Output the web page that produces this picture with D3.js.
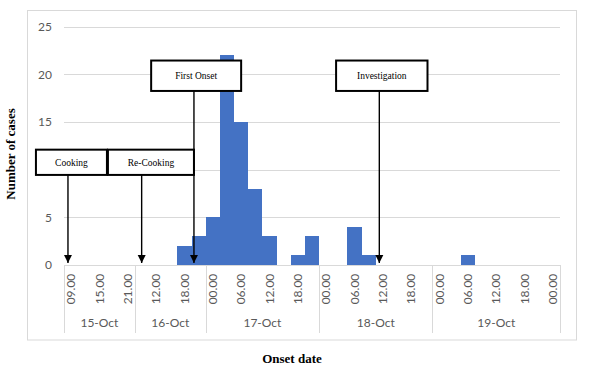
<!DOCTYPE html>
<html><head><meta charset="utf-8">
<script src="https://cdn.jsdelivr.net/npm/d3@7"></script>
<style>
html,body{margin:0;padding:0;background:#fff;}
svg{display:block;}
</style></head>
<body>
<svg id="chart" width="592" height="388"></svg>
<script>
// ---- data ----
const days = ["15-Oct", "16-Oct", "17-Oct", "18-Oct", "19-Oct"];
const hours15 = ["09.00", "12.00", "15.00", "18.00", "21.00"];
const hours16 = ["09.00", "12.00", "15.00", "18.00", "21.00"];
const hours17 = ["00.00", "03.00", "06.00", "09.00", "12.00", "15.00", "18.00", "21.00"];
const hours18 = ["00.00", "03.00", "06.00", "09.00", "12.00", "15.00", "18.00", "21.00"];
const hours19 = ["00.00", "03.00", "06.00", "09.00", "12.00", "15.00", "18.00", "21.00", "00.00"];
const cases15 = [0, 0, 0, 0, 0];
const cases16 = [0, 0, 0, 2, 3];
const cases17 = [5, 22, 15, 8, 3, 0, 1, 3];
const cases18 = [0, 0, 4, 1, 0, 0, 0, 0];
const cases19 = [0, 0, 1, 0, 0, 0, 0, 0, 0];
const yTicks = [0, 5, 10, 15, 20, 25];
// annotation events: position on the category axis (in category units)
const eventLabels = ["Cooking", "Re-Cooking", "First Onset", "Investigation"];
const eventAt = [0.28, 5.48, 9.17, 22.25];
const eventBoxFrom = [-1.98, 3.1, 6.15, 19.2];
const eventBoxTo = [3.03, 9.17, 12.5, 25.65];
const eventBoxLow = [9.45, 9.45, 18.26, 18.26];
const eventBoxHigh = [12.1, 12.1, 21.45, 21.45];

// ---- build categories ----
const hoursByDay = [hours15, hours16, hours17, hours18, hours19];
const casesByDay = [cases15, cases16, cases17, cases18, cases19];
const cats = [];
hoursByDay.forEach((hs, di) => hs.forEach((h, hi) => cats.push({day: di, hour: h, value: casesByDay[di][hi], idx: cats.length})));
const n = cats.length;

const svg = d3.select("#chart");
const L = 64, R = 560, T = 26.7, B = 265;

const x = d3.scaleBand().domain(cats.map(d => d.idx)).range([L, R]).padding(0);
const xl = d3.scaleLinear().domain([0, n]).range([L, R]);
const y = d3.scaleLinear().domain([0, 25]).range([B, T]);

// chart border
svg.append("rect").attr("x", 27.5).attr("y", 10.5).attr("width", 549).attr("height", 329.5)
  .attr("fill", "none").attr("stroke", "#d9d9d9").attr("stroke-width", 1);

// gridlines
svg.append("g").selectAll("line").data(yTicks.filter(t => t > 0)).join("line")
  .attr("x1", L).attr("x2", R).attr("y1", d => Math.round(y(d)) + 0.5).attr("y2", d => Math.round(y(d)) + 0.5)
  .attr("stroke", "#d9d9d9").attr("stroke-width", 1);

// y tick labels
svg.append("g").selectAll("text").data(yTicks).join("text")
  .attr("x", 52).attr("y", d => y(d)).attr("dy", "0.35em").attr("text-anchor", "end")
  .attr("font-family", "Lato, 'Open Sans', sans-serif").attr("font-size", 12).attr("fill", "#595959")
  .text(d => d);

// bars (edges snapped to whole pixels so adjacent bars merge)
svg.append("g").attr("shape-rendering", "crispEdges").selectAll("rect").data(cats.filter(d => d.value > 0)).join("rect")
  .attr("x", d => Math.round(x(d.idx)))
  .attr("width", d => Math.round(x(d.idx) + x.bandwidth()) - Math.round(x(d.idx)))
  .attr("y", d => Math.round(y(d.value))).attr("height", d => Math.round(y(0)) - Math.round(y(d.value)))
  .attr("fill", "#4472C4");

// x axis line
svg.append("line").attr("x1", L).attr("x2", R).attr("y1", B + 0.5).attr("y2", B + 0.5)
  .attr("stroke", "#d9d9d9").attr("stroke-width", 1);

// day boundaries
const dayStart = [];
let acc = 0;
hoursByDay.forEach(hs => { dayStart.push(acc); acc += hs.length; });
const bounds = dayStart.concat([n]);
svg.append("g").selectAll("line").data(bounds).join("line")
  .attr("x1", d => Math.round(xl(d)) + 0.5).attr("x2", d => Math.round(xl(d)) + 0.5)
  .attr("y1", B).attr("y2", 333)
  .attr("stroke", "#d9d9d9").attr("stroke-width", 1);

// hour labels (every other category)
svg.append("g").selectAll("text").data(cats.filter(d => d.idx % 2 === 0)).join("text")
  .attr("transform", d => `translate(${x(d.idx) + x.bandwidth() / 2},289) rotate(-90)`)
  .attr("text-anchor", "middle").attr("dy", "0.35em")
  .attr("font-family", "Lato, 'Open Sans', sans-serif").attr("font-size", 12).attr("fill", "#595959")
  .text(d => d.hour);

// day labels
svg.append("g").selectAll("text").data(days).join("text")
  .attr("x", (d, i) => (xl(bounds[i]) + xl(bounds[i + 1])) / 2).attr("y", 323).attr("dy", "0.35em")
  .attr("text-anchor", "middle")
  .attr("font-family", "Lato, 'Open Sans', sans-serif").attr("font-size", 12).attr("fill", "#595959")
  .text(d => d);

// axis titles
svg.append("text").attr("transform", "translate(10,154) rotate(-90)").attr("text-anchor", "middle").attr("dy", "0.35em")
  .attr("font-family", "'Liberation Serif', 'Times New Roman', serif").attr("font-weight", "bold").attr("font-size", 13)
  .text("Number of cases");
svg.append("text").attr("x", 292).attr("y", 358).attr("text-anchor", "middle").attr("dy", "0.35em")
  .attr("font-family", "'Liberation Serif', 'Times New Roman', serif").attr("font-weight", "bold").attr("font-size", 13)
  .text("Onset date");

// annotations
const defs = svg.append("defs");
defs.append("marker").attr("id", "arrow").attr("viewBox", "0 0 10 10").attr("refX", 10).attr("refY", 5)
  .attr("markerWidth", 6).attr("markerHeight", 6).attr("markerUnits", "strokeWidth").attr("orient", "auto")
  .append("path").attr("d", "M0,0 L10,5 L0,10 z").attr("fill", "#000");

const ev = eventLabels.map((l, i) => ({label: l, at: eventAt[i], x0: eventBoxFrom[i], x1: eventBoxTo[i], lo: eventBoxLow[i], hi: eventBoxHigh[i]}));
const ag = svg.append("g");
ag.selectAll("line").data(ev).join("line")
  .attr("x1", d => xl(d.at)).attr("x2", d => xl(d.at))
  .attr("y1", d => y(d.lo)).attr("y2", y(0) - 2)
  .attr("stroke", "#000").attr("stroke-width", 1.4).attr("marker-end", "url(#arrow)");
ag.selectAll("rect").data(ev).join("rect")
  .attr("x", d => xl(d.x0)).attr("width", d => xl(d.x1) - xl(d.x0))
  .attr("y", d => y(d.hi)).attr("height", d => y(d.lo) - y(d.hi))
  .attr("fill", "#fff").attr("stroke", "#000").attr("stroke-width", 2);
ag.selectAll("text").data(ev).join("text")
  .attr("x", d => (xl(d.x0) + xl(d.x1)) / 2).attr("y", d => (y(d.lo) + y(d.hi)) / 2).attr("dy", "0.35em")
  .attr("text-anchor", "middle")
  .attr("font-family", "'Liberation Serif', 'Times New Roman', serif").attr("font-size", 9.5)
  .text(d => d.label);
</script>
</body></html>
